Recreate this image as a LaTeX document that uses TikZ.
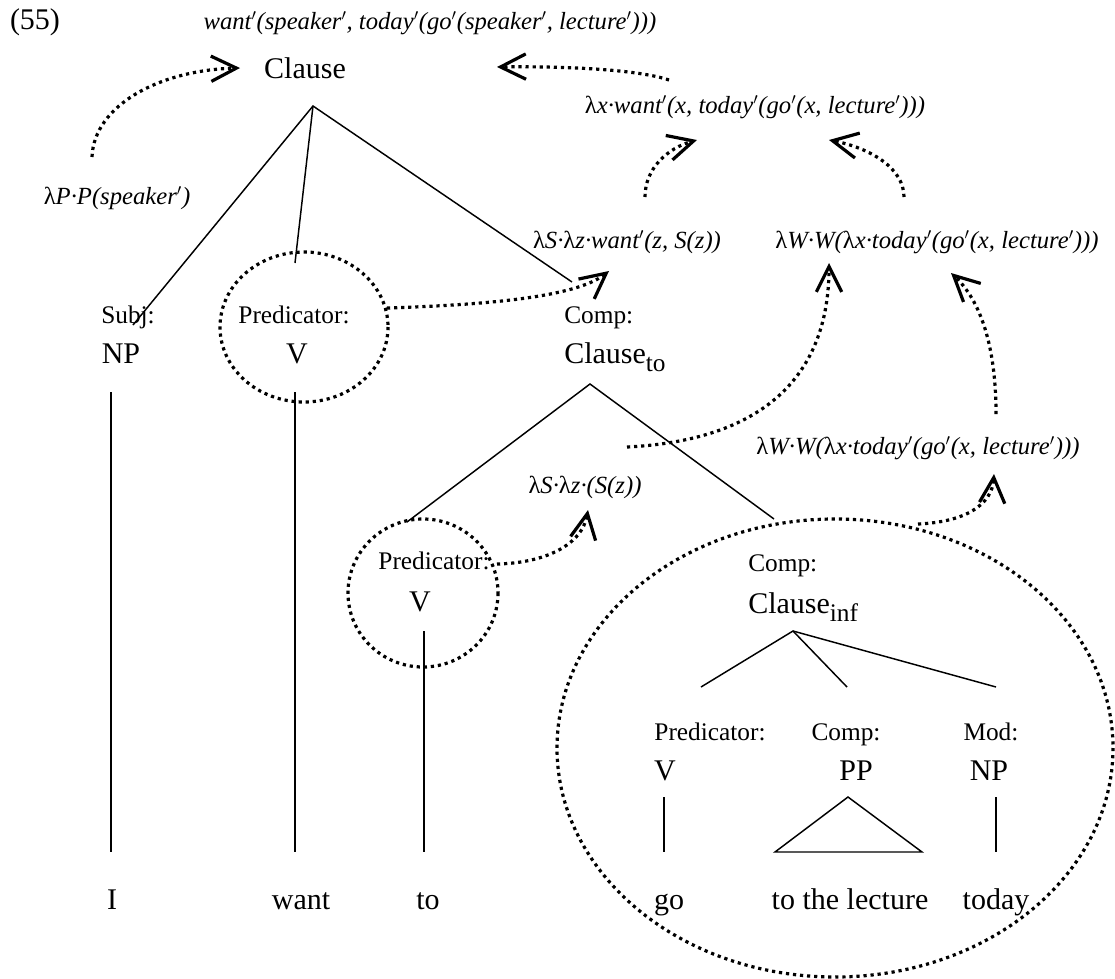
\documentclass[tikz,border=0pt]{standalone}
\usepackage{fontspec}
\setmainfont{Liberation Serif}
\usetikzlibrary{arrows.meta}
\newcommand{\lam}{{\upshape λ}}
\newcommand{\pr}{\ensuremath{'}}
\newcommand{\lowidx}[1]{\raisebox{-6pt}{\fontsize{19}{19}\selectfont #1}}
\begin{document}
\begin{tikzpicture}[x=0.75pt,y=-0.75pt,
  cat/.style={inner sep=0pt, anchor=base, font=\fontsize{22.5}{27}\selectfont},
  fn/.style={inner sep=0pt, anchor=base, font=\fontsize{19}{23}\selectfont},
  sem/.style={inner sep=0pt, anchor=base, font=\fontsize{18.5}{22}\selectfont\itshape},
  branch/.style={line width=1.1pt},
  dots/.style={line width=2.4pt, dash pattern=on 2.4pt off 2.9pt},
  flow/.style={dots, -{Straight Barb[length=19pt,width=19pt,line width=2.4pt]}},
  ring/.style={dots, draw}]
\useasboundingbox (0,0) rectangle (1115,979);

% ---------- top clause and its meanings ----------
\node[cat] (ex) at (35,29) {(55)};
\node[sem] (topsem) at (430,29) {want\pr(speaker\pr, today\pr(go\pr(speaker\pr, lecture\pr)))};
\node[cat] (clause) at (305,78) {Clause};
\node[sem] (subjsem) at (117,204) {\lam P·P(speaker\pr)};
\node[sem] (vpsem) at (755,113) {\lam x·want\pr(x, today\pr(go\pr(x, lecture\pr)))};
\node[sem] (wantsem) at (627,248) {\lam S·\lam z·want\pr(z, S(z))};
\node[sem] (compsem) at (937,248) {\lam W·W(\lam x·today\pr(go\pr(x, lecture\pr)))};

% ---------- first level ----------
\node[fn] (subjfn) at (128,323) {Subj:};
\node[cat] (np) at (121,363) {NP};
\node[fn] (predfn) at (294,323) {Predicator:};
\node[cat] (v) at (297,363) {V};
\node[fn, anchor=base west] (compfn) at (564,323) {Comp:};
\node[cat, anchor=base west] (clto) at (564,363) {Clause\lowidx{to}};
\draw[ring] (304,327) ellipse [x radius=84, y radius=75];

\coordinate (clause-apex) at (313,106);
\coordinate (subj-end) at (133,325);
\coordinate (pred-end) at (295,263);
\coordinate (comp-end) at (572,282);
\draw[branch] (subj-end) -- (clause-apex) -- (comp-end);
\draw[branch] (clause-apex) -- (pred-end);

% ---------- infinitival "to" clause ----------
\node[sem] (tosem) at (585,493) {\lam S·\lam z·(S(z))};
\node[sem] (infsem) at (918,454) {\lam W·W(\lam x·today\pr(go\pr(x, lecture\pr)))};
\node[fn] (tofn) at (434,569) {Predicator:};
\node[cat] (tov) at (420,611) {V};
\draw[ring] (423,593) ellipse [x radius=75, y radius=74];

\coordinate (clto-apex) at (590,384);
\coordinate (tov-end) at (407,522);
\coordinate (inf-end) at (774,519);
\draw[branch] (tov-end) -- (clto-apex) -- (inf-end);

% ---------- bare infinitive clause ----------
\node[fn, anchor=base west] (infcompfn) at (748,571) {Comp:};
\node[cat, anchor=base west] (clinf) at (748,613) {Clause\lowidx{inf}};
\node[fn] (gofn) at (710,740) {Predicator:};
\node[fn] (ppfn) at (846,740) {Comp:};
\node[fn] (modfn) at (991,740) {Mod:};
\node[cat] (gov) at (665,780) {V};
\node[cat] (pp) at (856,780) {PP};
\node[cat] (modnp) at (989,780) {NP};
\draw[ring] (835,748) ellipse [x radius=278, y radius=229];

\coordinate (inf-apex) at (793,631);
\coordinate (go-end) at (701,687);
\coordinate (pp-end) at (847,687);
\coordinate (mod-end) at (996,687);
\draw[branch] (go-end) -- (inf-apex) -- (mod-end);
\draw[branch] (inf-apex) -- (pp-end);

% ---------- words ----------
\node[cat] (wi) at (112,909) {I};
\node[cat] (wwant) at (301,909) {want};
\node[cat] (wto) at (428,909) {to};
\node[cat] (wgo) at (669,909) {go};
\node[cat] (wpp) at (850,909) {to the lecture};
\node[cat] (wtoday) at (996,909) {today};

\coordinate (np-foot) at (111,392);   \coordinate (i-head) at (111,852);
\coordinate (v-foot) at (295,392);    \coordinate (want-head) at (295,852);
\coordinate (tov-foot) at (424,631);  \coordinate (to-head) at (424,852);
\coordinate (gov-foot) at (664,797);  \coordinate (go-head) at (664,852);
\coordinate (modnp-foot) at (996,797);\coordinate (today-head) at (996,852);
\coordinate (pp-top) at (848,797);
\coordinate (pp-left) at (775,852);
\coordinate (pp-right) at (922,852);
\draw[branch] (np-foot) -- (i-head);
\draw[branch] (v-foot) -- (want-head);
\draw[branch] (tov-foot) -- (to-head);
\draw[branch] (gov-foot) -- (go-head);
\draw[branch] (modnp-foot) -- (today-head);
\draw[branch] (pp-top) -- (pp-left) -- (pp-right) -- cycle;

% ---------- composition arrows ----------
\coordinate (a1s) at (92,157);   \coordinate (a1t) at (240,68);
\coordinate (a2s) at (669,80);   \coordinate (a2t) at (497,67);
\coordinate (a3s) at (645,197);  \coordinate (a3t) at (697,140);
\coordinate (a4s) at (904,197);  \coordinate (a4t) at (829,140);
\coordinate (a5s) at (387,308);  \coordinate (a5t) at (609,271);
\coordinate (a6s) at (627,447);  \coordinate (a6t) at (829,263);
\coordinate (a7s) at (996,414);  \coordinate (a7t) at (951,273);
\coordinate (a8s) at (497,564);  \coordinate (a8t) at (588,510);
\coordinate (a9s) at (918,524);  \coordinate (a9t) at (994,474);

\draw[flow] (a1s) .. controls (94,105) and (160,70) .. (a1t);
\draw[flow] (a2s) .. controls (640,70) and (570,66) .. (a2t);
\draw[flow] (a3s) .. controls (645,168) and (668,148) .. (a3t);
\draw[flow] (a4s) .. controls (904,168) and (870,148) .. (a4t);
\draw[flow] (a5s) .. controls (480,305) and (575,298) .. (a5t);
\draw[flow] (a6s) .. controls (770,440) and (829,370) .. (a6t);
\draw[flow] (a7s) .. controls (996,345) and (980,300) .. (a7t);
\draw[flow] (a8s) .. controls (545,563) and (582,545) .. (a8t);
\draw[flow] (a9s) .. controls (965,522) and (992,505) .. (a9t);
\end{tikzpicture}
\end{document}
